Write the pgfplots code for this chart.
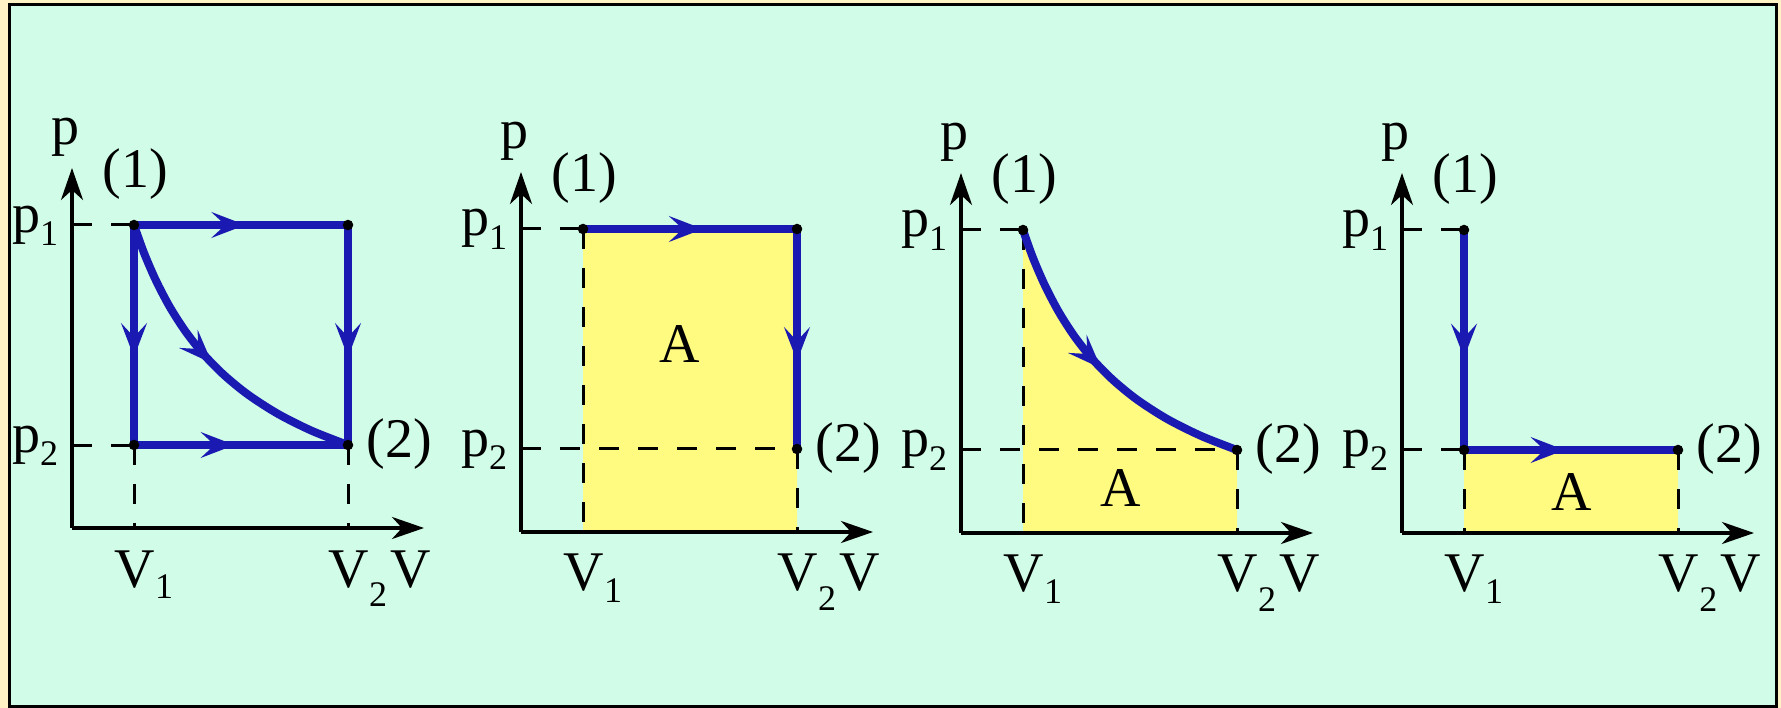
\documentclass[border=0pt]{standalone}
\usepackage{fontspec}
\setmainfont{Liberation Serif}
\usepackage{pgfplots}
\pgfplotsset{compat=1.18}
\usetikzlibrary{arrows.meta,decorations.markings}

\definecolor{mint}{RGB}{209,252,231}
\definecolor{rim}{RGB}{255,243,198}
\definecolor{area}{RGB}{255,250,128}
\definecolor{pvblue}{RGB}{26,26,178}

% one data unit = one pixel of the reference (0.25pt)
\pgfplotsset{
  pv/.style={
    x=0.25pt, y=0.25pt, anchor=south west,
    xmin=0, xmax=352, ymin=0, ymax=360,
    axis lines=left, xtick=\empty, ytick=\empty,
    clip=false, axis on top,
    axis line style={line width=0.9pt, -{Stealth[length=8pt,width=5.5pt,inset=2.5pt]}},
  },
  dash/.style={black, line width=0.75pt, dash pattern=on 5pt off 4.75pt},
  flow/.style={color=pvblue, line width=2pt, line cap=round, line join=round},
  arr/.style={postaction={decorate}, decoration={markings,
    mark=at position #1 with {\arrow{Stealth[length=8.5pt,width=6.5pt,inset=3.5pt,line width=0.6pt]}}}},
  dot/.style={only marks, mark=*, mark size=1.1pt, black},
}
\tikzset{every node/.style={font=\fontsize{14pt}{17pt}\selectfont, inner sep=0pt}}
\newcommand{\sub}[2][3.5pt]{\raisebox{-#1}{\fontsize{9pt}{10pt}\selectfont #2}}

% isotherm from (1) to (2)
\pgfplotstableread{
V     p
62    303
72    275.1
84    247.4
98    220.7
114   195.9
132   173.3
152   153
176   133.4
206   114.1
240   97.1
276   83
}\isotherm

% labels shared by all four diagrams
\newcommand{\pvlabels}{%
  \node[anchor=base] at (axis cs:-7,383) {p};
  \node[anchor=base east] at (axis cs:-13,296) {p\sub{1}};
  \node[anchor=base east] at (axis cs:-13,76) {p\sub{2}};
  \node[anchor=base] at (axis cs:63,340) {(1)};
  \node[anchor=base west] at (axis cs:294,70) {(2)};
  \node[anchor=base west] at (axis cs:42,-59) {V\sub[3pt]{1}};
  \node[anchor=base west] at (axis cs:256,-59) {V\sub[5pt]{2}};
  \node[anchor=base west] at (axis cs:318,-59) {V};
}

\begin{document}
\begin{tikzpicture}
\fill[rim] (0,0) rectangle (445.25pt,177pt);
\filldraw[fill=mint, draw=black, line width=0.75pt] (2.4pt,0.4pt) rectangle (444pt,175.9pt);

% (a) isochoric/isobaric paths and isotherm
\begin{axis}[pv, at={(18pt,45pt)}]
\addplot[dash] coordinates {(0,303) (62,303)};
\addplot[dash] coordinates {(0,83) (62,83)};
\addplot[dash] coordinates {(62,83) (62,0)};
\addplot[dash] coordinates {(276,83) (276,0)};
\addplot[flow, arr=0.52] coordinates {(62,303) (276,303)};
\addplot[flow, arr=0.6] coordinates {(276,303) (276,83)};
\addplot[flow, arr=0.6] coordinates {(62,303) (62,83)};
\addplot[flow, arr=0.47] coordinates {(62,83) (276,83)};
\addplot[flow, arr=0.5, smooth] table[x=V, y=p] {\isotherm};
\addplot[dot] coordinates {(62,303) (276,303) (62,83) (276,83)};
\pvlabels
\end{axis}

% (b) isobaric then isochoric
\begin{axis}[pv, at={(130.25pt,44pt)}]
\addplot[fill=area, draw=none] coordinates {(62,0) (62,303) (276,303) (276,0)} \closedcycle;
\addplot[dash] coordinates {(0,303) (62,303)};
\addplot[dash] coordinates {(62,303) (62,0)};
\addplot[dash] coordinates {(0,83) (276,83)};
\addplot[dash] coordinates {(276,83) (276,0)};
\addplot[flow, arr=0.56] coordinates {(62,303) (276,303)};
\addplot[flow, arr=0.6] coordinates {(276,303) (276,83)};
\addplot[dot] coordinates {(62,303) (276,303) (276,83)};
\node at (axis cs:159,188) {A};
\pvlabels
\end{axis}

% (c) isotherm
\begin{axis}[pv, at={(240.25pt,43.75pt)}]
\addplot[fill=area, draw=none, smooth] table[x=V, y=p] {\isotherm} \closedcycle;
\addplot[dash] coordinates {(0,303) (62,303)};
\addplot[dash] coordinates {(62,303) (62,0)};
\addplot[dash] coordinates {(0,83) (276,83)};
\addplot[dash] coordinates {(276,83) (276,0)};
\addplot[flow, arr=0.5, smooth] table[x=V, y=p] {\isotherm};
\addplot[dot] coordinates {(62,303) (276,83)};
\node at (axis cs:160,45) {A};
\pvlabels
\end{axis}

% (d) isochoric then isobaric
\begin{axis}[pv, at={(350.5pt,43.75pt)}]
\addplot[fill=area, draw=none] coordinates {(62,0) (62,83) (276,83) (276,0)} \closedcycle;
\addplot[dash] coordinates {(0,303) (62,303)};
\addplot[dash] coordinates {(0,83) (62,83)};
\addplot[dash] coordinates {(62,83) (62,0)};
\addplot[dash] coordinates {(276,83) (276,0)};
\addplot[flow, arr=0.58] coordinates {(62,303) (62,83)};
\addplot[flow, arr=0.47] coordinates {(62,83) (276,83)};
\addplot[dot] coordinates {(62,303) (62,83) (276,83)};
\node at (axis cs:170,41) {A};
\pvlabels
\end{axis}

\pgfresetboundingbox
\useasboundingbox (0,0) rectangle (445.25pt,177pt);
\end{tikzpicture}
\end{document}
